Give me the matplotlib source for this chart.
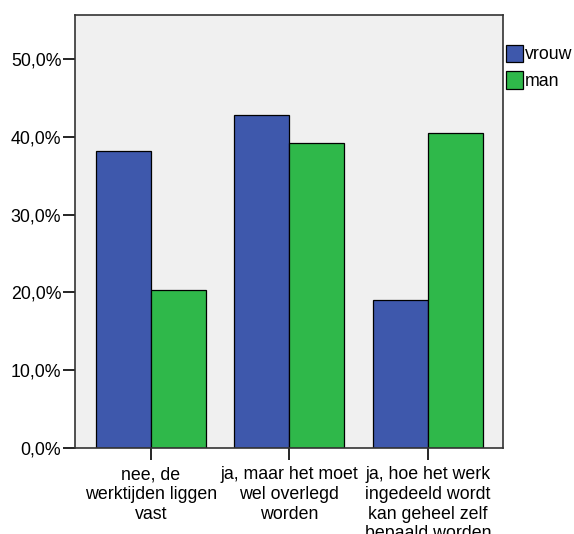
#!/usr/bin/env python3

import numpy as np
import matplotlib
matplotlib.use('Agg')
import matplotlib.pyplot as plt
from matplotlib.ticker import FuncFormatter

# categories and percentages
categories = ['nee, de\nwerktijden liggen\nvast',
              'ja, maar het moet\nwel overlegd\nworden',
              'ja, hoe het werk\ningedeeld wordt\nkan geheel zelf\nbepaald worden']
vrouw = [38.2, 42.8, 19.0]
man = [20.3, 39.2, 40.5]
series_names = ['vrouw', 'man']
y_ticks = [0, 10, 20, 30, 40, 50]

plt.rcParams['font.family'] = ['Liberation Sans', 'DejaVu Sans']


def plot_graph():
	fig = plt.figure(figsize=(5.74, 5.34), dpi=100)
	ax = fig.add_axes([0.1298, 0.1605, 0.7465, 0.812])
	ax.set_facecolor('#f0f0f0')

	x = np.arange(len(categories))
	w = 0.397
	ax.bar(x - w / 2, vrouw, w, color='#3e58ac', edgecolor='black',
		linewidth=0.9, label=series_names[0], zorder=2)
	ax.bar(x + w / 2, man, w, color='#2fb84a', edgecolor='black',
		linewidth=0.9, label=series_names[1], zorder=2)

	ax.set_xlim(-0.553, 2.543)
	ax.set_ylim(0, 55.66)
	ax.set_yticks(y_ticks)
	ax.yaxis.set_major_formatter(FuncFormatter(
		lambda v, p: ('%.1f' % v).replace('.', ',') + '%'))
	ax.set_xticks(x)
	ax.set_xticklabels(categories, linespacing=1.2)
	ax.tick_params(axis='both', direction='out', length=8.5, width=1.2,
		labelsize=12.8, color='black')
	ax.tick_params(axis='y', pad=1)
	ax.tick_params(axis='x', pad=4.5)
	for s in ax.spines.values():
		s.set_linewidth(1.2)
		s.set_color('#333333')

	fig.legend(loc='upper left', bbox_to_anchor=(0.881, 0.916),
		frameon=False, fontsize=12.8, handlelength=0.95, handleheight=1.1,
		handletextpad=0.15, labelspacing=0.45, borderaxespad=0,
		borderpad=0)

	fig.savefig('out.png', dpi=100)


def main():
	plot_graph()


if __name__ == '__main__':
	main()
